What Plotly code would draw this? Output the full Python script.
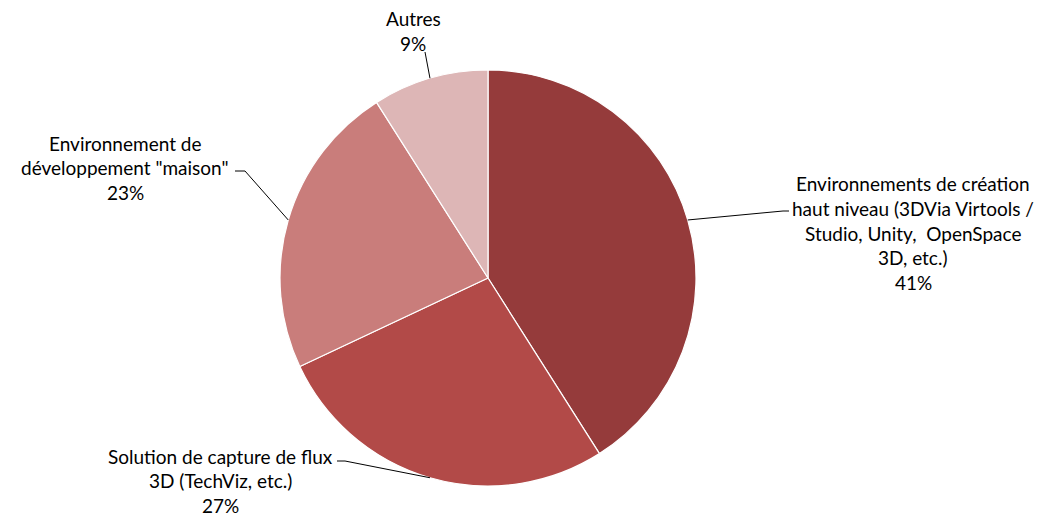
import math
import plotly.graph_objects as go

categories = [
    "Environnements de création haut niveau (3DVia Virtools / Studio, Unity,  OpenSpace 3D, etc.)",
    "Solution de capture de flux 3D (TechViz, etc.)",
    "Environnement de développement \"maison\"",
    "Autres",
]
values = [41, 27, 23, 9]
label_lines = [
    ["Environnements de création", "haut niveau (3DVia Virtools /", "Studio, Unity,  OpenSpace", "3D, etc.)"],
    ["Solution de capture de flux", "3D (TechViz, etc.)"],
    ["Environnement de", "développement \"maison\""],
    ["Autres"],
]
colors = ["#953B3B", "#B24A48", "#C97D7B", "#DDB6B6"]

W, H = 1046, 516
CX, CY, R = 488, 278, 208

# label layout: (center x of text block, y of first line, elbow x, elbow y, tick end x)
label_layout = [
    (913, 184, 783, 211, 789),
    (220, 456, 345, 461, 337),
    (125, 143, 245, 171, 235),
    (413, 19, 425, 52, 425),
]
LINE_H = 24.5

fig = go.Figure()
fig.add_trace(go.Pie(
    labels=categories, values=values, sort=False, direction="clockwise",
    rotation=0, marker=dict(colors=colors, line=dict(color="white", width=1.2)),
    textinfo="none", hoverinfo="label+percent", showlegend=False,
    domain=dict(x=[(CX - R) / W, (CX + R) / W], y=[1 - (CY + R) / H, 1 - (CY - R) / H]),
))

def px(x):
    return x / W

def py(y):
    return 1 - y / H

total = sum(values)
cum = 0
annotations = []
shapes = []
for i, v in enumerate(values):
    mid = (cum + v / 2) / total * 2 * math.pi
    cum += v
    ax = CX + R * math.sin(mid)
    ay = CY - R * math.cos(mid)
    tx, ty, ex, ey, kx = label_layout[i]
    lines = label_lines[i] + [f"{round(v / total * 100)}%"]
    for j, t in enumerate(lines):
        annotations.append(dict(
            x=px(tx), y=py(ty + j * LINE_H), xref="paper", yref="paper",
            text=t, showarrow=False, xanchor="center", yanchor="middle",
            font=dict(family="Lato, Carlito, Calibri, sans-serif", size=19, color="#000000"),
        ))
    path = f"M {px(ax)} {py(ay)} L {px(ex)} {py(ey)} L {px(kx)} {py(ey)}"
    shapes.append(dict(type="path", xref="paper", yref="paper", path=path,
                       line=dict(color="black", width=1)))

fig.update_layout(
    width=W, height=H, margin=dict(l=0, r=0, t=0, b=0),
    paper_bgcolor="white", plot_bgcolor="white",
    annotations=annotations, shapes=shapes,
)
fig.write_html("out.html", config={"displayModeBar": False},
               post_script="document.body.style.margin='0';")
